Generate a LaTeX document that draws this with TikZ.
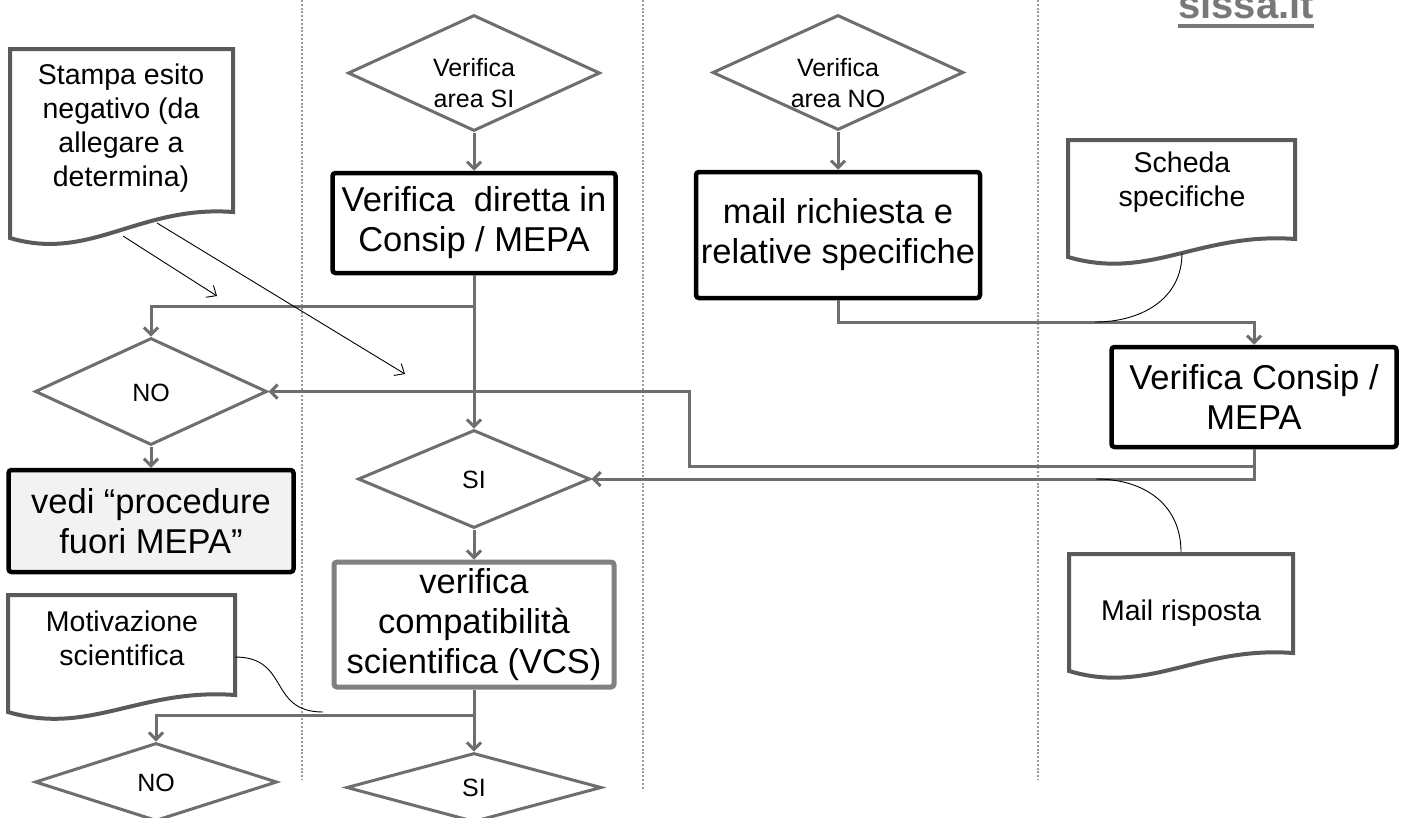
\documentclass[tikz,border=0pt]{standalone}
\usepackage{fontspec}
\setmainfont{Liberation Sans}
\usetikzlibrary{arrows.meta,shapes.geometric}
\definecolor{cgray}{HTML}{6E6E6E}
\definecolor{dgray}{HTML}{5A5A5A}
\definecolor{dotgray}{HTML}{9A9A9A}
\definecolor{vgray}{HTML}{808080}
\definecolor{lfill}{HTML}{F2F2F2}
\definecolor{sgray}{HTML}{787878}
\newcommand\mydoc[5]{%
  \draw[docb] (#1,#2) -- (#3,#2) -- (#3,#4)
    .. controls ({#3-0.42*(#3-#1)},{#4-7}) and ({#1+0.36*(#3-#1)},{#5+24}) .. (#1,#5) -- cycle;}
\begin{document}
\begin{tikzpicture}[x=1pt,y=-1pt,
 conn/.style={draw=cgray, line width=3pt, -{Straight Barb[length=7pt,width=14pt]}},
 plain/.style={draw=cgray, line width=3pt},
 thinarr/.style={draw=black, line width=0.9pt, -{Straight Barb[length=8pt,width=14pt,line width=0.9pt]}},
 thin/.style={draw=black, line width=0.9pt},
 lane/.style={draw=dotgray, line width=2pt, dash pattern=on 2pt off 1.8pt},
 dec/.style={diamond, draw=cgray, line width=3pt, fill=white, inner sep=0pt, aspect=2},
 dtxt/.style={font=\fontsize{25}{31}\selectfont, align=center, inner sep=0pt},
 proc/.style={rectangle, draw=black, line width=4.5pt, rounded corners=3pt, fill=white, align=center, font=\fontsize{34.5}{40}\selectfont, inner sep=0pt},
 docb/.style={draw=dgray, line width=4pt, fill=white, line join=miter},
 doctxt/.style={font=\fontsize{28.5}{34}\selectfont, align=center, inner sep=0pt},
]
\clip (0,0) rectangle (1402,817);
\fill[white] (0,0) rectangle (1402,817);

% lanes
\draw[lane] (302,0) -- (302,780);
\draw[lane] (643,0) -- (643,790);
\draw[lane] (1038,0) -- (1038,780);

% logo
\node[anchor=base west, font=\bfseries\fontsize{40}{40}\selectfont, text=sgray, inner sep=0pt] (logo) at (1178,18) {sissa.it};
\fill[sgray] ([yshift=-6pt]logo.base west) rectangle ([yshift=-10pt]logo.base east);

% nodes - middle column
\node[dec, minimum width=252pt, minimum height=116pt] (dASI) at (474,73) {};
\node[dtxt] (tASI) at (474,83) {Verifica\\area SI};
\node[proc, minimum width=283pt, minimum height=100pt] (bVD) at (474,223) {Verifica\ \ diretta in\\Consip / MEPA};
\node[dec, minimum width=232pt, minimum height=98pt] (dSI) at (474,479) {};
\node[dtxt] (tSI) at (474,480) {SI};
\node[proc, draw=vgray, line width=5pt, minimum width=280pt, minimum height=125pt] (bVCS) at (474,624.5) {verifica\\compatibilità\\scientifica (VCS)};
\node[dec, minimum width=255pt, minimum height=69pt] (dSIb) at (474,787.5) {};
\node[dtxt] (tSIb) at (474,788) {SI};

% left column
\node[dec, minimum width=232pt, minimum height=107pt] (dNO) at (151,391.5) {};
\node[dtxt] (tNO) at (151,393) {NO};
\node[proc, fill=lfill, minimum width=285pt, minimum height=102pt] (bVedi) at (151,521) {vedi “procedure\\fuori MEPA”};
\node[dec, minimum width=242pt, minimum height=78pt] (dNOb) at (156,782) {};
\node[dtxt] (tNOb) at (156,783) {NO};

% third column
\node[dec, minimum width=251pt, minimum height=115pt] (dANO) at (838,72.5) {};
\node[dtxt] (tANO) at (838,83) {Verifica\\area NO};
\node[proc, minimum width=284pt, minimum height=126pt] (bMR) at (838,235) {mail richiesta e\\relative specifiche};

% right column
\node[proc, minimum width=285pt, minimum height=100pt] (bVC) at (1254,397) {Verifica Consip /\\MEPA};

% documents
\mydoc{10}{49}{233}{212}{238}
\node[doctxt] (tStampa) at (121,128) {Stampa esito\\negativo (da\\allegare a\\determina)};
\mydoc{1068}{140}{1295}{239}{257}
\node[doctxt] (tScheda) at (1182,182) {Scheda\\specifiche};
\mydoc{1069}{554}{1293}{653}{671}
\node[doctxt] (tMail) at (1181,613) {Mail risposta};
\mydoc{8}{595}{235}{695}{712}
\node[doctxt] (tMot) at (122,638) {Motivazione\\scientifica};

% junction coordinates
\coordinate (j1) at (474,306);
\coordinate (j2) at (1254,466);
\coordinate (k1) at (689,466);
\coordinate (j3) at (838,322);
\coordinate (j4) at (474,715);

% connectors
\draw[conn] (dASI.south) -- (bVD.north);
\draw[conn] (bVD.south) -- (dSI.north);
\draw[conn] (j1) -| (dNO.north);
\draw[conn] (dNO.south) -- (bVedi.north);
\draw[conn] (bVC.south) |- (dSI.east);
\draw[conn] (j2) -- (k1) |- (dNO.east);
\draw[conn] (dANO.south) -- (bMR.north);
\draw[conn] (bMR.south) -- (j3) -| (bVC.north);
\draw[conn] (dSI.south) -- (bVCS.north);
\draw[conn] (bVCS.south) -- (dSIb.north);
\draw[conn] (j4) -| (dNOb.north);

% thin annotation lines
\coordinate (s1) at (123,236);
\coordinate (s1e) at (217,296);
\coordinate (s2) at (157,223);
\coordinate (s2e) at (405,374);
\draw[thinarr] (s1) -- (s1e);
\draw[thinarr] (s2) -- (s2e);
\coordinate (m1) at (235,657);
\coordinate (m2) at (323,712);
\draw[thin] (m1) .. controls (290,657) and (268,712) .. (m2);
\coordinate (c1) at (1182,253);
\coordinate (c2) at (1095,322);
\draw[thin] (c1) .. controls (1182,300) and (1140,322) .. (c2);
\coordinate (r1) at (1181,552);
\coordinate (r2) at (1096,479);
\draw[thin] (r1) .. controls (1181,505) and (1145,479) .. (r2);
\end{tikzpicture}
\end{document}
